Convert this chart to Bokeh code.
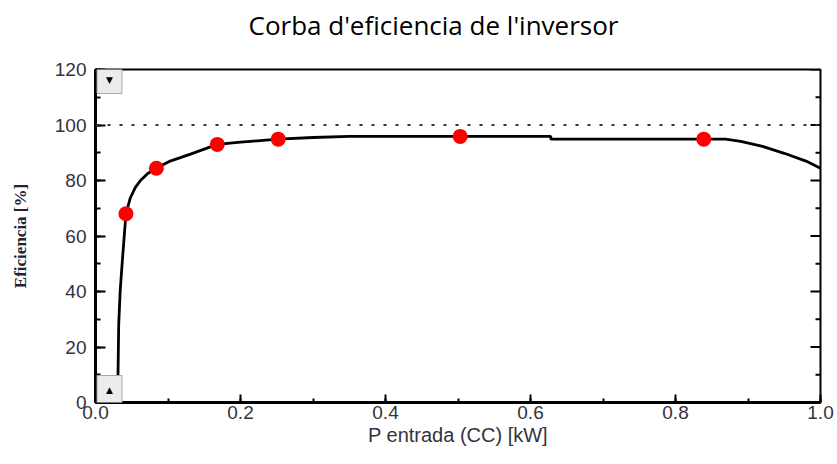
from bokeh.plotting import figure
from bokeh.models import (Range1d, SingleIntervalTicker, Span, Label,
                          PrintfTickFormatter)
from bokeh.embed import file_html
from bokeh.resources import INLINE

# ---- data ----
curve_x = [0.031, 0.031, 0.032, 0.034, 0.037, 0.042, 0.048, 0.055, 0.062, 0.072,
           0.084, 0.103, 0.131, 0.168, 0.200, 0.214, 0.252, 0.300, 0.350, 0.503,
           0.628, 0.628, 0.869, 0.890, 0.920, 0.950, 0.980, 1.000]
curve_y = [0.0, 9.0, 28.0, 40.0, 51.0, 68.0, 73.7, 77.5, 80.0, 82.5,
           84.4, 87.0, 89.5, 93.0, 93.8, 94.1, 94.9, 95.5, 95.9, 95.9,
           95.9, 94.9, 94.9, 94.1, 92.3, 89.8, 87.0, 84.4]
point_x = [0.042, 0.084, 0.168, 0.252, 0.503, 0.839]
point_y = [68.0, 84.4, 93.0, 94.9, 95.9, 94.9]
reference_level = 100
right_major_ticks = [0, 20, 40, 60, 80, 100, 120]
right_minor_ticks = [10, 30, 50, 70, 90, 110]

title_text = "Corba d'eficiencia de l'inversor"
x_label = "P entrada (CC) [kW]"
y_label = "Eficiencia [%]"

W, H = 837, 464
p = figure(width=W, height=H, output_backend="svg", toolbar_location=None,
           x_range=Range1d(0, 1), y_range=Range1d(0, 120),
           min_border_left=95, min_border_right=17, min_border_top=68,
           min_border_bottom=62, background_fill_color="white",
           border_fill_color="white")

xax = p.below[0]
yax = p.left[0]

p.title.text = title_text
p.title.align = "left"
p.title.text_font = "Open Sans"
p.title.text_font_style = "normal"
p.title.text_font_size = "26px"
p.title.text_color = "black"
p.title.offset = 153
p.title.standoff = 8
p.title.padding = dict(left=0, right=0, top=0, bottom=23)

p.xgrid.visible = False
p.ygrid.visible = False
p.outline_line_color = "black"
p.outline_line_width = 2
p.outline_line_alpha = 1

tick_color = "#333340"
for ax in (xax, yax):
    ax.axis_line_width = 3
    ax.axis_line_color = "black"
    ax.major_tick_in = 10
    ax.major_tick_out = 0
    ax.minor_tick_in = 5
    ax.minor_tick_out = 0
    ax.major_tick_line_width = 2
    ax.minor_tick_line_width = 2
    ax.major_label_text_font = "Liberation Sans"
    ax.major_label_text_font_size = "19px"
    ax.major_label_text_color = tick_color

xax.ticker = SingleIntervalTicker(interval=0.2, num_minor_ticks=2)
xax.formatter = PrintfTickFormatter(format="%.1f")
xax.major_tick_in = 8
xax.minor_tick_in = 4
xax.major_label_standoff = 3
xax.axis_label = x_label
xax.axis_label_text_font = "Liberation Sans"
xax.axis_label_text_font_style = "normal"
xax.axis_label_text_font_size = "20px"
xax.axis_label_text_color = tick_color
xax.axis_label_standoff = 2

yax.ticker = SingleIntervalTicker(interval=20, num_minor_ticks=2)
yax.major_label_standoff = 9
yax.axis_label = y_label
yax.axis_label_text_font = "Liberation Serif"
yax.axis_label_text_font_style = "bold"
yax.axis_label_text_font_size = "17px"
yax.axis_label_text_color = "#222233"
yax.axis_label_standoff = 22

# inward ticks along the right edge of the frame (outer half is clipped)
p.scatter([1.0] * len(right_major_ticks), right_major_ticks, marker="dash",
          size=20, line_color="black", line_width=2)
p.scatter([1.0] * len(right_minor_ticks), right_minor_ticks, marker="dash",
          size=10, line_color="black", line_width=2)

p.add_layout(Span(location=reference_level, dimension="width", line_color="#333333",
                  line_width=2, line_dash="3 9"))

p.line(curve_x, curve_y, line_color="black", line_width=2.8)
p.scatter(point_x, point_y, size=15, fill_color="#ff0000", line_color=None)

# scroll-button decorations of the original screenshot (screen px, frame-relative)
buttons = [(14, 323, "\u25BC"), (14, 13, "\u25B2")]
for bx, by, sym in buttons:
    p.add_layout(Label(x=bx, y=by, x_units="screen", y_units="screen", text=sym,
                       text_align="center", text_baseline="middle",
                       text_font="DejaVu Sans", text_font_size="9px",
                       text_color="black", background_fill_color="#ececec",
                       background_fill_alpha=1, border_line_color="#a8a8a8",
                       border_line_width=1, padding=9))

open("out.html", "w").write(file_html(p, INLINE))
